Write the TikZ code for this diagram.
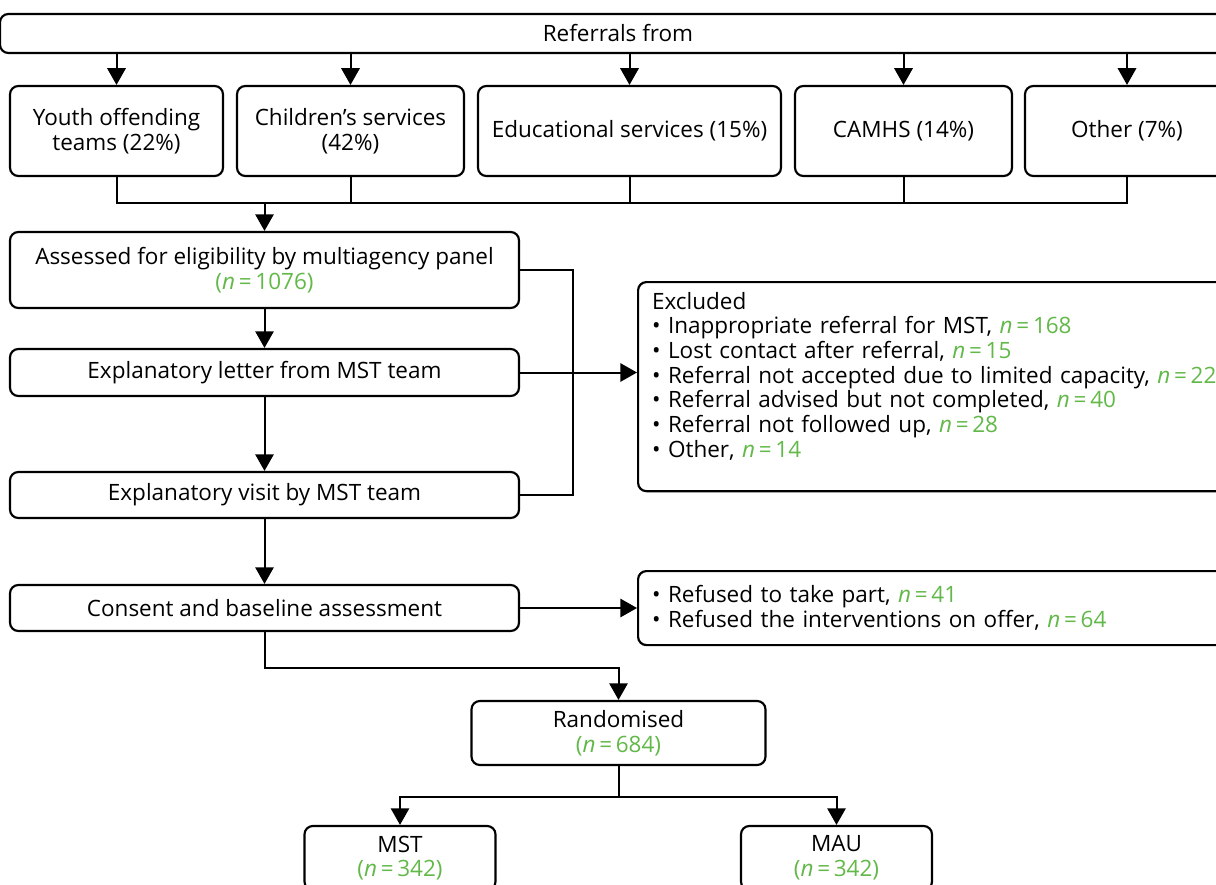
\documentclass[tikz,border=0pt]{standalone}
\usepackage{fontspec}
\setmainfont{Open Sans}
\usetikzlibrary{arrows.meta,positioning}
\definecolor{ngreen}{RGB}{98,184,72}
\newcommand{\nval}[1]{\textcolor{ngreen}{\textit{n}\,=\,#1}}
\newcommand{\nbr}[1]{\textcolor{ngreen}{(\textit{n}\,=\,#1)}}

\begin{document}
\begin{tikzpicture}[x=0.6pt,y=-0.6pt,
    box/.style={draw, rounded corners=5pt, line width=1.3pt, align=center, inner sep=0pt, font=\fontsize{13.5}{14.8}\selectfont},
    list/.style={box, align=left, text width=360pt, inner xsep=8.4pt},
    arr/.style={-{Triangle[length=10pt,width=11pt]}, line width=1.2pt},
    link/.style={line width=1.2pt}
]
\clip (0,0) rectangle (1216,885);
\node[box, minimum width=741.6pt, minimum height=23.4pt] (ref) at (618,33.5) {Referrals from};
\node[box, minimum width=127.8pt, minimum height=54pt] (yot) at (116.5,131) {Youth offending\\teams (22\%)};
\node[box, minimum width=136.2pt, minimum height=54pt] (chs) at (350.5,131) {Children’s services\\(42\%)};
\node[box, minimum width=181.8pt, minimum height=54pt] (edu) at (629.5,131) {Educational services (15\%)};
\node[box, minimum width=130.2pt, minimum height=54pt] (camhs) at (903.5,131) {CAMHS (14\%)};
\node[box, minimum width=122.4pt, minimum height=54pt] (oth) at (1127,131) {Other (7\%)};
\node[box, minimum width=305.4pt, minimum height=45.6pt] (assess) at (264.5,270) {Assessed for eligibility by multiagency panel\\\nbr{1076}};
\node[box, minimum width=305.4pt, minimum height=28.2pt] (letter) at (264.5,372.5) {Explanatory letter from MST team};
\node[box, minimum width=305.4pt, minimum height=27.6pt] (visit) at (264.5,495) {Explanatory visit by MST team};
\node[box, minimum width=305.4pt, minimum height=27.6pt] (consent) at (264.5,608) {Consent and baseline assessment};
\node[list, inner ysep=6pt, text depth=103.2pt, anchor=north west] (excl) at (637,281) {Excluded\\
  \textbullet\ Inappropriate referral for MST, \nval{168}\\
  \textbullet\ Lost contact after referral, \nval{15}\\
  \textbullet\ Referral not accepted due to limited capacity, \nval{22}\\
  \textbullet\ Referral advised but not completed, \nval{40}\\
  \textbullet\ Referral not followed up, \nval{28}\\
  \textbullet\ Other, \nval{14}};
\node[list, minimum height=44.4pt, anchor=north west] (refused) at (637,570) {\textbullet\ Refused to take part, \nval{41}\\
  \textbullet\ Refused the interventions on offer, \nval{64}};
\node[box, minimum width=176.4pt, minimum height=38.4pt] (rand) at (618.5,733) {Randomised\\\nbr{684}};
\node[box, minimum width=114.6pt, minimum height=38.4pt] (mst) at (400,858) {MST\\\nbr{342}};
\node[box, minimum width=114.6pt, minimum height=38.4pt] (mau) at (836.5,858) {MAU\\\nbr{342}};

\coordinate (join) at (264.5,203);
\coordinate (side) at (573,372.5);
\coordinate (bend) at (618.5,668);
\coordinate (split) at (618.5,797);

\foreach \n in {yot,chs,edu,camhs,oth}
  \draw[arr] (ref.south -| \n.north) -- (\n.north);
\draw[link] (yot.south) |- (join) -| (oth.south);
\foreach \n in {chs,edu,camhs}
  \draw[link] (\n.south) -- (\n.south |- join);
\draw[arr] (join) -- (assess);
\draw[arr] (assess) -- (letter);
\draw[arr] (letter) -- (visit);
\draw[arr] (visit) -- (consent);
\draw[link] (assess.east) -| (side) |- (visit.east);
\draw[arr] (letter.east) -- (letter.east -| excl.west);
\draw[arr] (consent.east) -- (consent.east -| refused.west);
\draw[arr] (consent.south) |- (bend) -- (rand.north);
\draw[link] (rand.south) -- (split);
\draw[arr] (split) -| (mst.north);
\draw[arr] (split) -| (mau.north);
\end{tikzpicture}
\end{document}
